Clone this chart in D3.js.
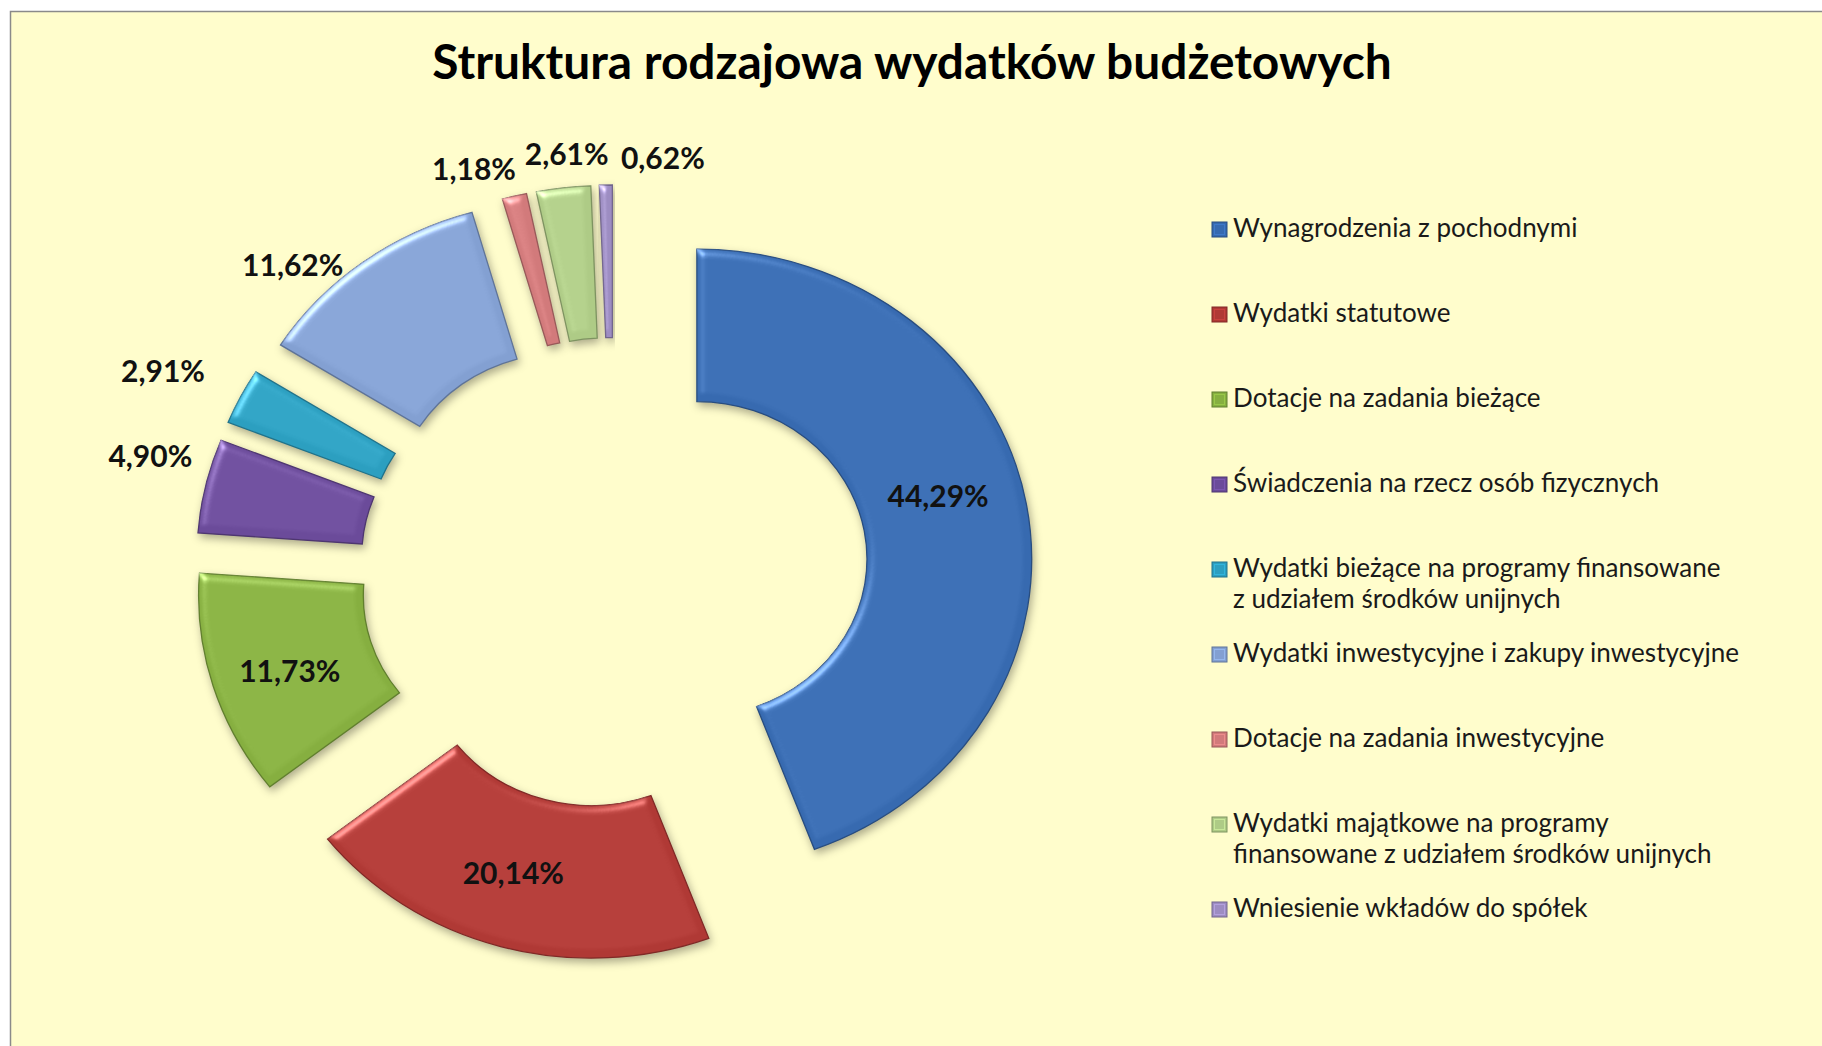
<!DOCTYPE html>
<html>
<head>
<meta charset="utf-8">
<script src="https://cdn.jsdelivr.net/npm/d3@7"></script>
<style>
html,body{margin:0;padding:0;background:#ffffff;}
svg{display:block;}
</style>
</head>
<body>
<svg id="chart" width="1822" height="1046"></svg>
<script>
// ---------- data ----------
const chartTitle = "Struktura rodzajowa wydatków budżetowych";
const categories = [
  "Wynagrodzenia z pochodnymi",
  "Wydatki statutowe",
  "Dotacje na zadania bieżące",
  "Świadczenia na rzecz osób fizycznych",
  "Wydatki bieżące na programy finansowane\nz udziałem środków unijnych",
  "Wydatki inwestycyjne i zakupy inwestycyjne",
  "Dotacje na zadania inwestycyjne",
  "Wydatki majątkowe na programy\nfinansowane z udziałem środków unijnych",
  "Wniesienie wkładów do spółek"
];
const values = [44.29, 20.14, 11.73, 4.90, 2.91, 11.62, 1.18, 2.61, 0.62];
const colors = ["#376AB0", "#B03935", "#86AF40", "#6B4B9A", "#2C9FC0",
                "#83A0D2", "#D27A7B", "#AECB86", "#9D8DC2"];

// ---------- layout ----------
const W = 1822, H = 1046;
const cx = 614, cy = 573;          // ring centre
const rOut = 310, rIn = 157.5;     // radii (vertical units)
const stretchX = 1.08;             // horizontal stretch of the ring
const explode = 78;                // explosion distance of every slice
// label placement relative to its slice centre: [radius, angle in degrees]
const labelPolar = [[232, 74.3], [236, 197.8], [238, 251.4], [367, 285.7], [386, 295.6],
                    [351, 314.4], [346.5, 341.3], [343.3, 354.25], [340.2, 7.9]];
const legendX = 1212, legendTop = 237, legendStep = 85, legendLineH = 31, markerSize = 15;
const legendTextDx = 21, legendRefWidth = 506;

const fmt = v => d3.format(".2f")(v).replace(".", ",") + "%";

const svg = d3.select("#chart");
const defs = svg.append("defs");

// bevel + shadow filter
const f = defs.append("filter").attr("id", "bevel")
  .attr("x", "-20%").attr("y", "-20%").attr("width", "140%").attr("height", "140%")
  .attr("color-interpolation-filters", "sRGB");
f.append("feGaussianBlur").attr("in", "SourceAlpha").attr("stdDeviation", 4).attr("result", "b");
const spec = f.append("feSpecularLighting").attr("in", "b").attr("surfaceScale", 4)
  .attr("specularConstant", 0.9).attr("specularExponent", 28)
  .attr("lighting-color", "#ffffff").attr("result", "s");
spec.append("feDistantLight").attr("azimuth", 235).attr("elevation", 40);
f.append("feComposite").attr("in", "s").attr("in2", "SourceAlpha").attr("operator", "in").attr("result", "s2");
f.append("feComposite").attr("in", "SourceGraphic").attr("in2", "s2").attr("operator", "arithmetic")
  .attr("k1", 0).attr("k2", 1).attr("k3", 0.45).attr("k4", 0).attr("result", "lit");
f.append("feGaussianBlur").attr("in", "SourceAlpha").attr("stdDeviation", 4).attr("result", "sb");
f.append("feOffset").attr("in", "sb").attr("dx", 2).attr("dy", 4).attr("result", "so");
f.append("feFlood").attr("flood-color", "#000").attr("flood-opacity", 0.32).attr("result", "fl");
f.append("feComposite").attr("in", "fl").attr("in2", "so").attr("operator", "in").attr("result", "shadow");
const mg = f.append("feMerge");
mg.append("feMergeNode").attr("in", "shadow");
mg.append("feMergeNode").attr("in", "lit");

// background / chart area
svg.append("rect").attr("x", 0).attr("y", 0).attr("width", W).attr("height", H).attr("fill", "#ffffff");
svg.append("rect").attr("x", 10.5).attr("y", 11.5).attr("width", W + 20).attr("height", H + 20)
  .attr("fill", "#FFFDCC").attr("stroke", "#8a8a8a").attr("stroke-width", 1.5);

// title
const titleEl = svg.append("text")
  .attr("x", 912).attr("y", 79)
  .attr("text-anchor", "middle")
  .attr("font-family", "Lato, 'Open Sans', sans-serif")
  .attr("font-weight", "bold")
  .attr("font-size", 42)
  .attr("fill", "#000")
  .text(chartTitle);
{
  const w = titleEl.node().getComputedTextLength();
  titleEl.attr("font-size", 42 * 960 / w);
}

// ring
const pieData = d3.pie().value(d => d).sort(null)(values);
const arc = d3.arc().innerRadius(rIn).outerRadius(rOut);
const ring = svg.append("g").attr("transform", `translate(${cx},${cy}) scale(${stretchX},1)`);
const mid = d => (d.startAngle + d.endAngle) / 2;

ring.selectAll("path.slice").data(pieData).join("path")
  .attr("class", "slice")
  .attr("transform", d => `translate(${Math.sin(mid(d)) * explode},${-Math.cos(mid(d)) * explode})`)
  .attr("d", arc)
  .attr("fill", (d, i) => colors[i])
  .attr("stroke", (d, i) => d3.color(colors[i]).darker(0.9))
  .attr("stroke-width", 1.3)
  .attr("vector-effect", "non-scaling-stroke")
  .attr("filter", "url(#bevel)");

// data labels
const labelSize = 30;
svg.append("g").selectAll("text").data(pieData).join("text")
  .attr("x", (d, i) => {
    const m = mid(d), [r, a] = labelPolar[i], t = a * Math.PI / 180;
    return cx + stretchX * (Math.sin(m) * explode + r * Math.sin(t));
  })
  .attr("y", (d, i) => {
    const m = mid(d), [r, a] = labelPolar[i], t = a * Math.PI / 180;
    return cy + (-Math.cos(m) * explode - r * Math.cos(t)) + labelSize * 0.36;
  })
  .attr("text-anchor", "middle")
  .attr("font-family", "Lato, 'Open Sans', sans-serif")
  .attr("font-weight", "bold")
  .attr("font-size", labelSize)
  .attr("fill", "#111")
  .text((d, i) => fmt(values[i]));

// legend
const legend = svg.append("g");
const items = legend.selectAll("g").data(categories).join("g")
  .attr("transform", (d, i) => `translate(${legendX},${legendTop + i * legendStep})`);
items.append("rect")
  .attr("x", 0).attr("y", -markerSize).attr("width", markerSize).attr("height", markerSize)
  .attr("fill", (d, i) => colors[i])
  .attr("stroke", (d, i) => d3.color(colors[i]).darker(0.9))
  .attr("stroke-width", 1);
items.append("rect")
  .attr("x", 2.5).attr("y", -markerSize + 2.5).attr("width", markerSize - 5).attr("height", markerSize - 5)
  .attr("fill", "none")
  .attr("stroke", (d, i) => d3.color(colors[i]).brighter(0.6))
  .attr("stroke-opacity", 0.6)
  .attr("stroke-width", 1);
const legendTexts = items.append("text")
  .attr("x", legendTextDx).attr("y", 0)
  .attr("font-family", "Lato, 'Open Sans', sans-serif")
  .attr("font-size", 22)
  .attr("fill", "#1a1a1a");
legendTexts.selectAll("tspan").data(d => d.split("\n")).join("tspan")
  .attr("x", legendTextDx).attr("dy", (d, j) => j === 0 ? 0 : legendLineH)
  .text(d => d);
{
  // fit legend font to reference width of the longest single line
  const ref = legendTexts.filter((d, i) => i === 5).node().getComputedTextLength();
  legendTexts.attr("font-size", 22 * legendRefWidth / ref);
}
</script>
</body>
</html>
